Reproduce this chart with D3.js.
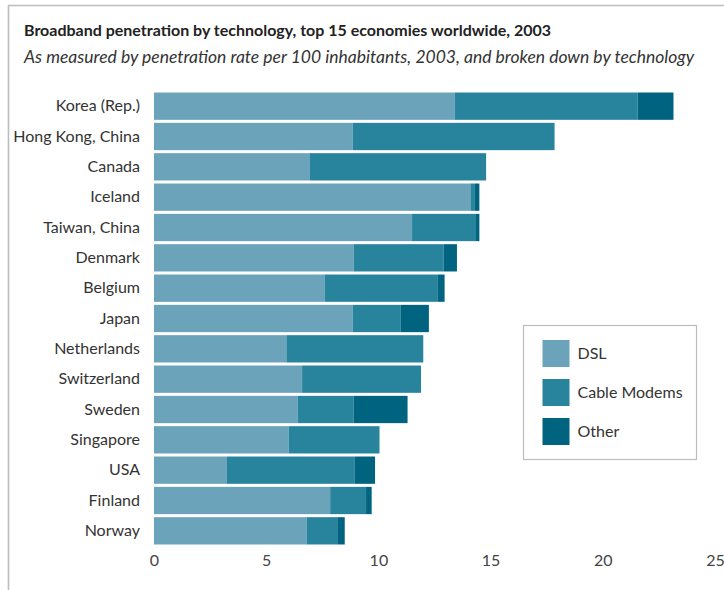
<!DOCTYPE html>
<html>
<head>
<meta charset="utf-8">
<script src="https://cdn.jsdelivr.net/npm/d3@7"></script>
<style>
body { margin: 0; background: #fff; }
text { font-family: Lato, "Open Sans", sans-serif; }
</style>
</head>
<body>
<svg id="chart" width="724" height="590"></svg>
<script>
// values per 100 inhabitants
var countries = ["Korea (Rep.)", "Hong Kong, China", "Canada", "Iceland", "Taiwan, China",
  "Denmark", "Belgium", "Japan", "Netherlands", "Switzerland", "Sweden", "Singapore",
  "USA", "Finland", "Norway"];
var dsl   = [13.4, 8.85, 6.95, 14.1, 11.5, 8.9, 7.6, 8.85, 5.9, 6.6, 6.4, 6.0, 3.25, 7.85, 6.8];
var cable = [8.15, 9.0, 7.85, 0.2, 2.85, 4.0, 5.05, 2.15, 6.1, 5.3, 2.5, 4.05, 5.7, 1.6, 1.4];
var other = [1.6, 0, 0, 0.2, 0.15, 0.6, 0.3, 1.25, 0, 0, 2.4, 0, 0.9, 0.25, 0.3];
var series = ["DSL", "Cable Modems", "Other"];
var colors = ["#6aa3ba", "#28839c", "#00637f"];
var xTicks = [0, 5, 10, 15, 20, 25];

var svg = d3.select("#chart"),
    margin = {top: 91, right: 9, bottom: 44, left: 154},
    width = +svg.attr("width") - margin.left - margin.right,
    height = +svg.attr("height") - margin.top - margin.bottom;

// frame
svg.append("path")
   .attr("d", "M8.5,590 V5.5 H724")
   .attr("fill", "none")
   .attr("stroke", "#bdbdbd")
   .attr("stroke-width", 1.6);

svg.append("text")
   .attr("x", 24).attr("y", 36)
   .attr("font-size", 16).attr("font-weight", "bold").attr("fill", "#222")
   .text("Broadband penetration by technology, top 15 economies worldwide, 2003");
svg.append("text")
   .attr("x", 24).attr("y", 63)
   .attr("font-size", 17.5).attr("font-style", "italic").attr("fill", "#333")
   .text("As measured by penetration rate per 100 inhabitants, 2003, and broken down by technology");

var g = svg.append("g").attr("transform", "translate(" + margin.left + "," + margin.top + ")");

var rows = countries.map(function(c, i) {
  return {country: c, "DSL": dsl[i], "Cable Modems": cable[i], "Other": other[i]};
});

var x = d3.scaleLinear().domain([0, 25]).range([0, width]);
var y = d3.scaleBand().domain(countries).range([0, height]).paddingInner(0.1).paddingOuter(0.05);
var color = d3.scaleOrdinal().domain(series).range(colors);

var stack = d3.stack().keys(series)(rows);

g.selectAll(".layer")
  .data(stack)
  .enter().append("g")
    .attr("class", "layer")
    .attr("fill", function(d) { return color(d.key); })
  .selectAll("rect")
  .data(function(d) { return d; })
  .enter().append("rect")
    .attr("x", function(d) { return x(d[0]); })
    .attr("y", function(d) { return y(d.data.country); })
    .attr("width", function(d) { return Math.max(0, x(d[1]) - x(d[0])); })
    .attr("height", y.bandwidth());

var yAxis = g.append("g")
  .call(d3.axisLeft(y).tickSize(0).tickPadding(14));
yAxis.select(".domain").remove();
yAxis.selectAll("text")
  .attr("font-family", "Lato, 'Open Sans', sans-serif")
  .attr("font-size", 16).attr("fill", "#333");

var xAxis = g.append("g")
  .attr("transform", "translate(0," + height + ")")
  .call(d3.axisBottom(x).tickValues(xTicks).tickSize(0).tickPadding(9));
xAxis.select(".domain").remove();
xAxis.selectAll("text")
  .attr("font-family", "Lato, 'Open Sans', sans-serif")
  .attr("font-size", 16).attr("fill", "#444");

// legend
var legend = svg.append("g").attr("transform", "translate(523.5,325.5)");
legend.append("rect")
  .attr("width", 173).attr("height", 134)
  .attr("fill", "#fff").attr("stroke", "#bdbdbd").attr("stroke-width", 1.2);
var item = legend.selectAll(".item")
  .data(series)
  .enter().append("g")
    .attr("class", "item")
    .attr("transform", function(d, i) { return "translate(19," + (14.5 + i * 39) + ")"; });
item.append("rect")
  .attr("width", 27).attr("height", 27)
  .attr("fill", function(d) { return color(d); });
item.append("text")
  .attr("x", 35).attr("y", 19)
  .attr("font-size", 16).attr("fill", "#333")
  .text(function(d) { return d; });
</script>
</body>
</html>
